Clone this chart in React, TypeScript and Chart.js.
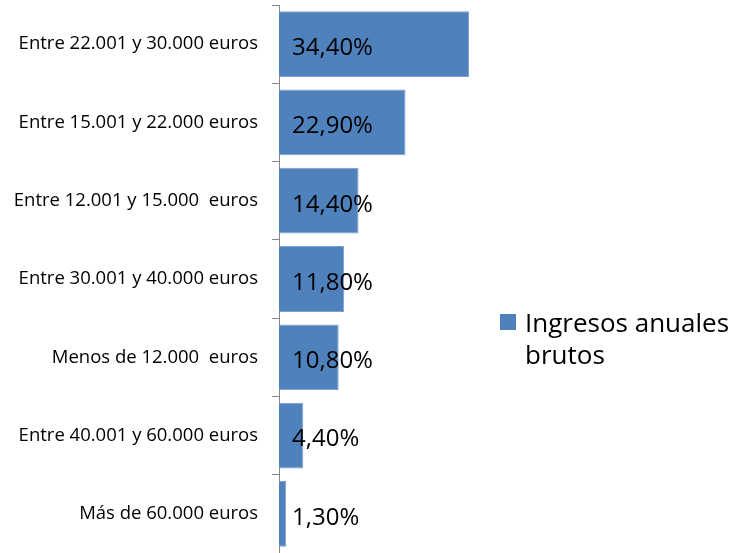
import React, { useEffect, useRef } from "react";
import { Chart, registerables } from "chart.js";

Chart.register(...registerables);

const categories = [
  "Entre 22.001 y 30.000 euros",
  "Entre 15.001 y 22.000 euros",
  "Entre 12.001 y 15.000  euros",
  "Entre 30.001 y 40.000 euros",
  "Menos de 12.000  euros",
  "Entre 40.001 y 60.000 euros",
  "Más de 60.000 euros",
];
const values = [34.4, 22.9, 14.4, 11.8, 10.8, 4.4, 1.3];
const valueLabels = ["34,40%", "22,90%", "14,40%", "11,80%", "10,80%", "4,40%", "1,30%"];
const seriesName = ["Ingresos anuales", "brutos"];

const FONT = "'Open Sans', 'Liberation Sans', sans-serif";
const BAR = "#4F81BD";

const labelsPlugin = {
  id: "customLabels",
  afterDatasetsDraw(chart: any) {
    const ctx = chart.ctx;
    const meta = chart.getDatasetMeta(0);
    ctx.save();
    ctx.font = `24px ${FONT}`;
    ctx.fillStyle = "#000";
    ctx.textBaseline = "middle";
    ctx.textAlign = "left";
    meta.data.forEach((el: any, i: number) => {
      ctx.fillText(valueLabels[i], chart.chartArea.left + 13, el.y + 4);
    });
    // legend
    const lx = 500;
    const ly = 314;
    ctx.fillStyle = BAR;
    ctx.fillRect(lx, ly, 16, 16);
    ctx.font = `26px ${FONT}`;
    ctx.fillStyle = "#000";
    ctx.fillText(seriesName[0], lx + 25, ly + 11);
    ctx.fillText(seriesName[1], lx + 25, ly + 11 + 32);
    ctx.restore();
  },
};

export default function App() {
  const ref = useRef<HTMLCanvasElement>(null);
  useEffect(() => {
    if (!ref.current) return;
    const chart = new Chart(ref.current, {
      type: "bar",
      data: {
        labels: categories,
        datasets: [
          {
            label: seriesName.join(" "),
            data: values,
            backgroundColor: BAR,
            borderColor: "#7C9FCC",
            borderWidth: 1,
            barPercentage: 0.84,
            categoryPercentage: 1,
          },
        ],
      },
      options: {
        indexAxis: "y",
        animation: false,
        responsive: false,
        layout: { padding: { top: 5, right: 233, bottom: 0, left: 0 } },
        plugins: { legend: { display: false }, tooltip: { enabled: false } },
        scales: {
          x: { display: false, min: 0, max: 40 },
          y: {
            afterFit(scale: any) {
              scale.width = 279;
              scale.paddingTop = 0;
              scale.paddingBottom = 0;
            },
            grid: {
              offset: true,
              drawOnChartArea: false,
              drawTicks: true,
              tickLength: 7,
              color: "#868686",
            },
            border: { display: true, color: "#868686", width: 1 },
            ticks: {
              color: "#000",
              padding: 14,
              font: { family: FONT, size: 18.5 },
            },
          },
        },
      },
      plugins: [labelsPlugin],
    });
    return () => chart.destroy();
  }, []);
  return (
    <div style={{ position: "fixed", left: 0, top: 0, width: 733, height: 553, background: "#fff" }}>
      <canvas ref={ref} width={733} height={553} />
    </div>
  );
}
